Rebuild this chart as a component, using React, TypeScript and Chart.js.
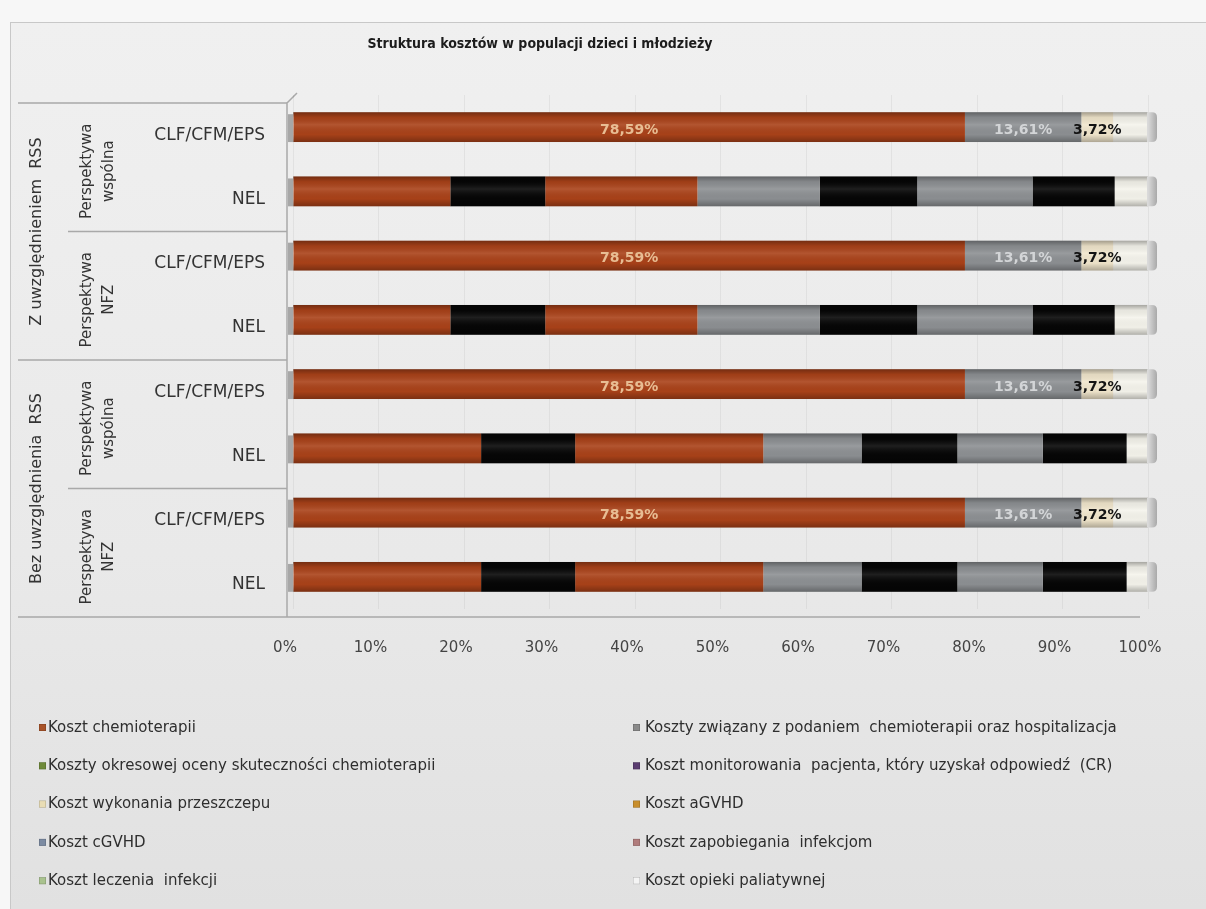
import React, { useEffect, useRef } from "react";
import { Chart, registerables } from "chart.js";

Chart.register(...registerables);

const titleText = "Struktura kosztów w populacji dzieci i młodzieży";
const categories = ["CLF/CFM/EPS", "NEL", "CLF/CFM/EPS", "NEL", "CLF/CFM/EPS", "NEL", "CLF/CFM/EPS", "NEL"];
const perspectiveGroups = [
  ["Perspektywa", "wspólna"],
  ["Perspektywa", "NFZ"],
  ["Perspektywa", "wspólna"],
  ["Perspektywa", "NFZ"],
];
const rssGroups = ["Z uwzględnieniem  RSS", "Bez uwzględnienia  RSS"];
const xTickValues = [0, 10, 20, 30, 40, 50, 60, 70, 80, 90, 100];

const seriesNames = [
  "Koszt chemioterapii",
  "Koszty związany z podaniem  chemioterapii oraz hospitalizacja",
  "Koszty okresowej oceny skuteczności chemioterapii",
  "Koszt monitorowania  pacjenta, który uzyskał odpowiedź  (CR)",
  "Koszt wykonania przeszczepu",
  "Koszt aGVHD",
  "Koszt cGVHD",
  "Koszt zapobiegania  infekcjom",
  "Koszt leczenia  infekcji",
  "Koszt opieki paliatywnej",
];

const chemio = [78.59, 18.4, 78.59, 18.4, 78.59, 22.0, 78.59, 22.0];
const hospitalizacja = [13.61, 0, 13.61, 0, 13.61, 0, 13.61, 0];
const ocena = [0, 11.1, 0, 11.1, 0, 11.0, 0, 11.0];
const monitorowanie = [0, 17.8, 0, 17.8, 0, 22.0, 0, 22.0];
const przeszczep = [0, 14.3, 0, 14.3, 0, 11.5, 0, 11.5];
const aGVHD = [0, 11.4, 0, 11.4, 0, 11.2, 0, 11.2];
const cGVHD = [0, 13.5, 0, 13.5, 0, 10.0, 0, 10.0];
const zapobieganie = [0, 9.6, 0, 9.6, 0, 9.8, 0, 9.8];
const leczenie = [3.72, 0, 3.72, 0, 3.72, 0, 3.72, 0];
const paliatywna = [4.08, 3.9, 4.08, 3.9, 4.08, 2.5, 4.08, 2.5];

const seriesValues = [chemio, hospitalizacja, ocena, monitorowanie, przeszczep, aGVHD, cGVHD, zapobieganie, leczenie, paliatywna];

const barColors = ["#AA4219", "#8D9093", "#060606", "#AA4219", "#8D9093", "#060606", "#8D9093", "#060606", "#F1E6CC", "#F5F4EC"];
const legendColors = ["#A9542A", "#8A8A8A", "#6F8A3A", "#5A3C70", "#E9DDB5", "#C88E2C", "#7C8BA2", "#B07C7C", "#A9C28E", "#F4F4F4"];

// which rows carry value labels, and label colours per series (null = none)
const labelledRows = [true, false, true, false, true, false, true, false];
const labelColors = ["#E8BD93", "#D3D5D7", null, null, null, null, null, null, "#141414", null];

const DEPTH = 8;

export default function App() {
  const ref = useRef<HTMLCanvasElement>(null);

  useEffect(() => {
    const canvas = ref.current;
    if (!canvas) return;

    const bandEdges = (chart: any) => {
      const y = chart.scales.y;
      const n = categories.length;
      const edges: number[] = [];
      for (let k = 0; k <= n; k++) {
        if (k === 0) edges.push(y.getPixelForValue(0) - (y.getPixelForValue(1) - y.getPixelForValue(0)) / 2);
        else if (k === n) edges.push(y.getPixelForValue(n - 1) + (y.getPixelForValue(n - 1) - y.getPixelForValue(n - 2)) / 2);
        else edges.push((y.getPixelForValue(k - 1) + y.getPixelForValue(k)) / 2);
      }
      return edges.map((e) => e + DEPTH);
    };

    const backgroundPlugin = {
      id: "bg",
      beforeDraw(chart: any) {
        const { ctx, width, height, chartArea } = chart;
        ctx.save();
        ctx.fillStyle = "#F7F7F7";
        ctx.fillRect(0, 0, width, height);
        const g = ctx.createLinearGradient(0, 22, 0, height);
        g.addColorStop(0, "#F0F0F0");
        g.addColorStop(0.6, "#E9E9E9");
        g.addColorStop(1, "#E1E1E1");
        ctx.fillStyle = g;
        ctx.fillRect(10, 22, width - 10, height - 22);
        ctx.strokeStyle = "#C8C8C8";
        ctx.lineWidth = 1;
        ctx.strokeRect(10.5, 22.5, width, height);

        // title
        ctx.fillStyle = "#1C1C1C";
        ctx.font = "bold 14px 'Liberation Sans Narrow', 'DejaVu Sans Condensed', 'Roboto Condensed', sans-serif";
        ctx.textAlign = "center";
        ctx.textBaseline = "middle";
        ctx.fillText(titleText, 540, 44);

        const edges = bandEdges(chart);
        const wallX = chartArea.left - DEPTH + 2;

        // separators of the multi-level category axis
        ctx.strokeStyle = "#A9A9A9";
        ctx.lineWidth = 1.5;
        for (let k = 0; k < edges.length; k += 2) {
          const isOuter = k % 4 === 0;
          ctx.beginPath();
          ctx.moveTo(isOuter ? 18 : 68, edges[k]);
          ctx.lineTo(wallX, edges[k]);
          ctx.stroke();
        }
        // floor front edge
        ctx.beginPath();
        ctx.moveTo(wallX, edges[edges.length - 1]);
        ctx.lineTo(chartArea.right - DEPTH, edges[edges.length - 1]);
        ctx.stroke();
        // side wall edge
        ctx.beginPath();
        ctx.moveTo(wallX, edges[edges.length - 1]);
        ctx.lineTo(wallX, edges[0]);
        ctx.lineTo(wallX + DEPTH + 2, edges[0] - DEPTH - 2);
        ctx.stroke();

        // level 1 and level 2 labels (rotated)
        ctx.fillStyle = "#333333";
        ctx.textAlign = "center";
        ctx.textBaseline = "middle";
        rssGroups.forEach((txt, gi) => {
          const yc = (edges[gi * 4] + edges[gi * 4 + 4]) / 2;
          ctx.save();
          ctx.translate(37, yc);
          ctx.rotate(-Math.PI / 2);
          ctx.font = "16px 'DejaVu Sans', sans-serif";
          ctx.fillText(txt, 0, 0);
          ctx.restore();
        });
        perspectiveGroups.forEach((lines, gi) => {
          const yc = (edges[gi * 2] + edges[gi * 2 + 2]) / 2 + 4;
          lines.forEach((ln, li) => {
            ctx.save();
            ctx.translate(87 + li * 22, yc);
            ctx.rotate(-Math.PI / 2);
            ctx.font = "15px 'DejaVu Sans', sans-serif";
            ctx.fillText(ln, 0, 0);
            ctx.restore();
          });
        });
        ctx.restore();
      },
    };

    const barDecorPlugin = {
      id: "barDecor",
      afterDatasetsDraw(chart: any) {
        const { ctx } = chart;
        const xs = chart.scales.x;
        const meta0 = chart.getDatasetMeta(0);
        ctx.save();
        categories.forEach((_, i) => {
          const el = meta0.data[i];
          if (!el) return;
          const h = el.height;
          const top = el.y - h / 2;
          const total = seriesValues.reduce((s, arr) => s + arr[i], 0);
          const x0 = xs.getPixelForValue(0);
          const x1 = xs.getPixelForValue(total);
          // cylinder shading
          const g = ctx.createLinearGradient(0, top, 0, top + h);
          g.addColorStop(0, "rgba(0,0,0,0.32)");
          g.addColorStop(0.18, "rgba(0,0,0,0.06)");
          g.addColorStop(0.42, "rgba(255,255,255,0.10)");
          g.addColorStop(0.75, "rgba(0,0,0,0.02)");
          g.addColorStop(1, "rgba(0,0,0,0.28)");
          ctx.fillStyle = g;
          ctx.fillRect(x0, top, x1 - x0, h);
          // left end shading (3D side)
          ctx.fillStyle = "#A7A7A7";
          ctx.fillRect(x0 - 5, top + 2, 5, h - 2);
          // right cap
          const cg = ctx.createLinearGradient(x1, 0, x1 + 9, 0);
          cg.addColorStop(0, "#DADADA");
          cg.addColorStop(1, "#A9A9A9");
          ctx.fillStyle = cg;
          ctx.beginPath();
          ctx.moveTo(x1 - 1, top);
          ctx.lineTo(x1 + 4, top);
          ctx.quadraticCurveTo(x1 + 9, top, x1 + 9, top + 5);
          ctx.lineTo(x1 + 9, top + h - 5);
          ctx.quadraticCurveTo(x1 + 9, top + h, x1 + 4, top + h);
          ctx.lineTo(x1 - 1, top + h);
          ctx.closePath();
          ctx.fill();
        });

        // value labels
        ctx.font = "bold 14px 'DejaVu Sans', sans-serif";
        ctx.textAlign = "center";
        ctx.textBaseline = "middle";
        seriesValues.forEach((vals, si) => {
          const col = labelColors[si];
          if (!col) return;
          const meta = chart.getDatasetMeta(si);
          vals.forEach((v, i) => {
            if (!labelledRows[i] || !v) return;
            const el = meta.data[i];
            const cx = (el.x + el.base) / 2;
            ctx.fillStyle = col;
            ctx.fillText(v.toFixed(2).replace(".", ",") + "%", cx, el.y + 3);
          });
        });
        ctx.restore();
      },
      afterDraw(chart: any) {
        const { ctx } = chart;
        ctx.save();
        ctx.font = "15px 'DejaVu Sans', sans-serif";
        ctx.textAlign = "left";
        ctx.textBaseline = "middle";
        seriesNames.forEach((name, i) => {
          const col = i % 2;
          const row = Math.floor(i / 2);
          const y = 728 + row * 38.3;
          const mx = col === 0 ? 39 : 633;
          const tx = col === 0 ? 48 : 645;
          ctx.fillStyle = legendColors[i];
          ctx.fillRect(mx, y - 4, 7, 7);
          ctx.strokeStyle = "rgba(0,0,0,0.25)";
          ctx.lineWidth = 0.5;
          ctx.strokeRect(mx + 0.25, y - 3.75, 6.5, 6.5);
          ctx.fillStyle = "#2E2E2E";
          ctx.fillText(name, tx, y);
        });
        ctx.restore();
      },
    };

    const chart = new Chart(canvas, {
      type: "bar",
      data: {
        labels: categories,
        datasets: seriesValues.map((vals, si) => ({
          label: seriesNames[si],
          data: vals,
          backgroundColor: barColors[si],
          borderWidth: 0,
          categoryPercentage: 0.93,
          barPercentage: 0.5,
        })),
      },
      options: {
        indexAxis: "y",
        animation: false,
        responsive: false,
        devicePixelRatio: 1,
        events: [],
        layout: { padding: { top: 95, right: 58, bottom: 0, left: 0 } },
        plugins: {
          legend: { display: false },
          title: { display: false },
          tooltip: { enabled: false },
        },
        scales: {
          x: {
            stacked: true,
            min: 0,
            max: 100,
            afterFit(scale: any) {
              scale.height = 300;
            },
            afterBuildTicks(scale: any) {
              scale.ticks = xTickValues.map((v) => ({ value: v }));
            },
            border: { display: false },
            grid: { color: "rgba(0,0,0,0.05)", drawTicks: false },
            ticks: {
              callback: (v: any) => v + "%",
              font: { family: "'DejaVu Sans', sans-serif", size: 15 },
              color: "#444444",
              padding: 30,
              labelOffset: -DEPTH,
              maxRotation: 0,
            },
          },
          y: {
            stacked: true,
            afterFit(scale: any) {
              scale.width = 293;
            },
            border: { display: false },
            grid: { display: false, drawTicks: false },
            ticks: {
              font: { family: "'DejaVu Sans', sans-serif", size: 17 },
              color: "#333333",
              padding: 28,
              labelOffset: DEPTH,
            },
          },
        },
      },
      plugins: [backgroundPlugin, barDecorPlugin],
    } as any);

    return () => chart.destroy();
  }, []);

  return (
    <div style={{ position: "absolute", left: 0, top: 0, width: 1206, height: 909 }}>
      <canvas ref={ref} width={1206} height={909} style={{ display: "block" }} />
    </div>
  );
}
